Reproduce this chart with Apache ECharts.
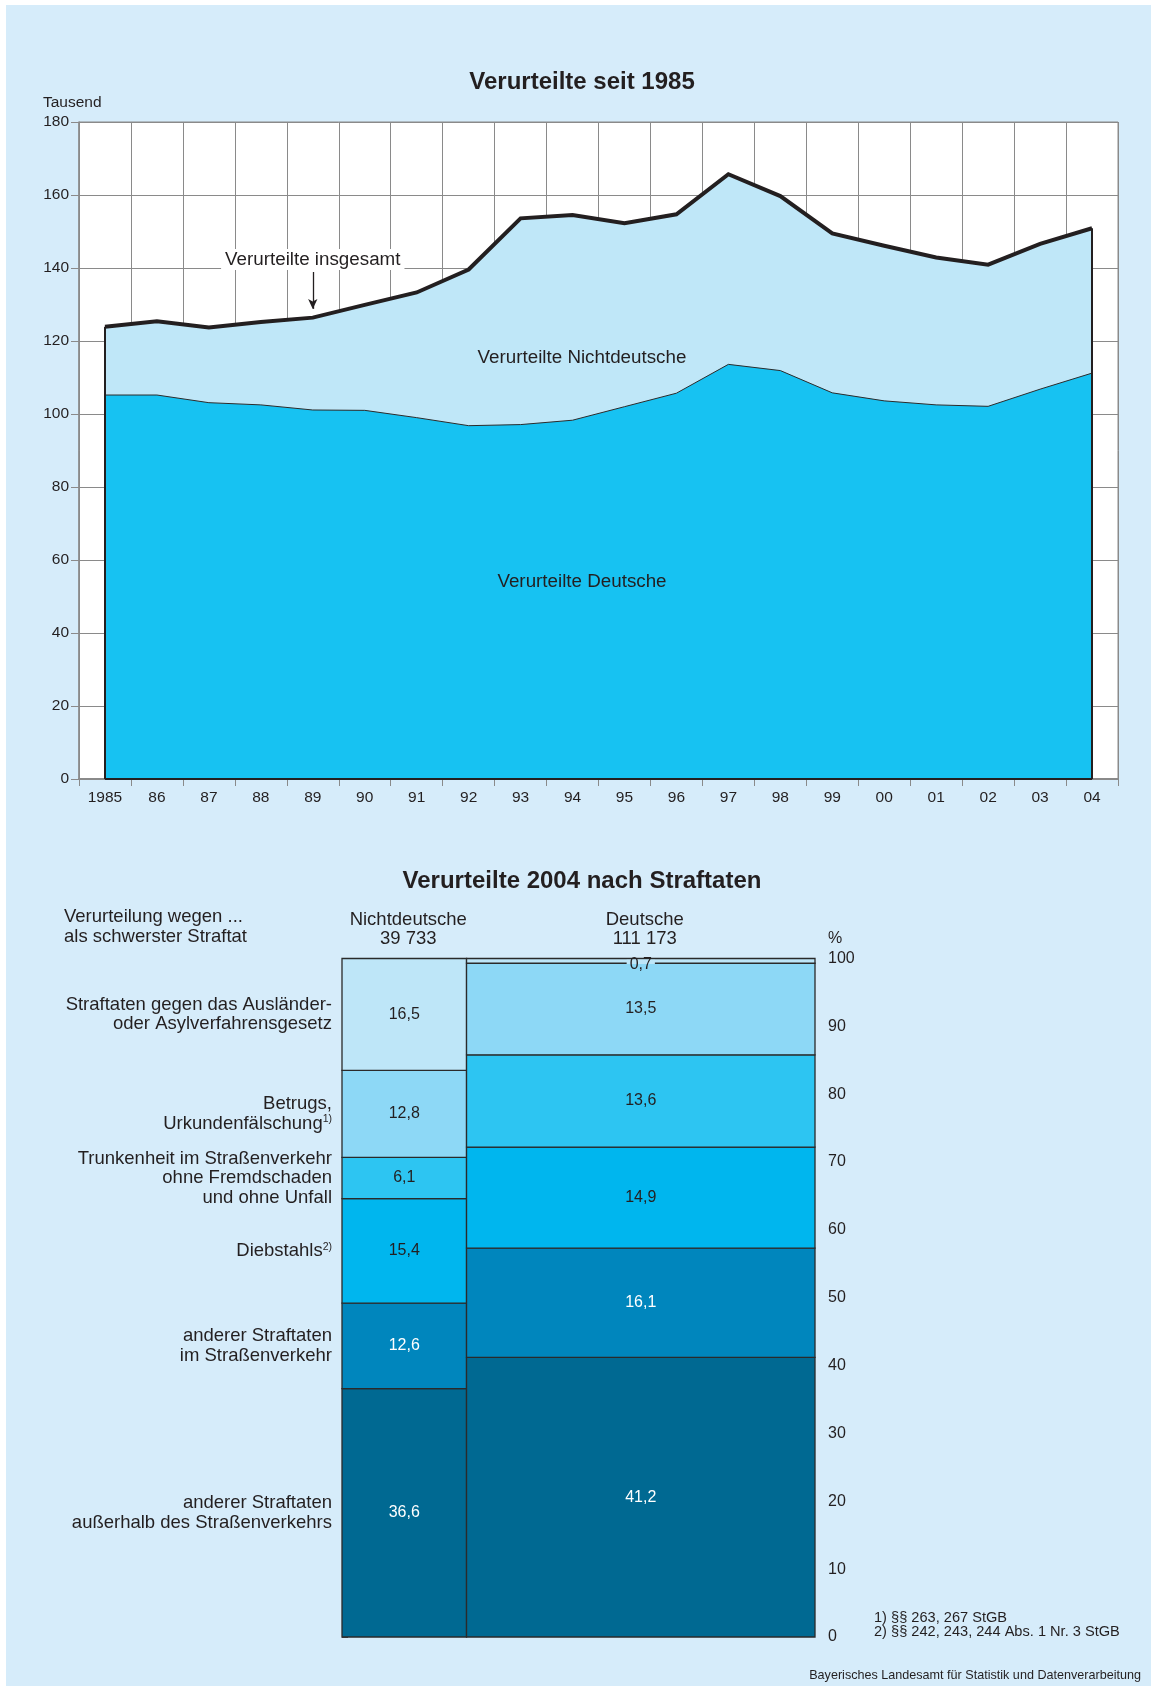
<!DOCTYPE html>
<html>
<head>
<meta charset="utf-8">
<title>Verurteilte in Bayern</title>
<script src="https://cdn.jsdelivr.net/npm/echarts@6/dist/echarts.min.js"></script>
<style>
  html, body { margin: 0; padding: 0; background: #fff; }
  #chart { width: 1151px; height: 1686px; }
</style>
</head>
<body>
<div id="chart"></div>
<script>
const FONT = '"Liberation Sans", Arial, Helvetica, sans-serif';
const INK = '#231F20';
const GRID_GREY = '#8a8a8a';

// --- Verurteilte seit 1985 (in Tausend) ---
const years = ['1985', '86', '87', '88', '89', '90', '91', '92', '93', '94',
               '95', '96', '97', '98', '99', '00', '01', '02', '03', '04'];
const insgesamt = [123.9, 125.4, 123.7, 125.2, 126.4, 129.9, 133.3, 139.6, 153.6, 154.5,
                   152.3, 154.7, 165.7, 159.7, 149.5, 146.1, 142.9, 140.9, 146.6, 150.9];
const deutsche  = [105.2, 105.2, 103.1, 102.5, 101.1, 101.0, 99.0, 96.8, 97.1, 98.3,
                   102.0, 105.7, 113.6, 111.9, 105.8, 103.6, 102.5, 102.1, 106.8, 111.2];

// --- Verurteilte 2004 nach Straftaten (Anteile in %, von unten nach oben) ---
const groupNames = ['Nichtdeutsche', 'Deutsche'];
const groupCounts = [39733, 111173];
const offenceLabels = [
  'anderer Straftaten\naußerhalb des Straßenverkehrs',
  'anderer Straftaten\nim Straßenverkehr',
  'Diebstahls{sup|2)}',
  'Trunkenheit im Straßenverkehr\nohne Fremdschaden\nund ohne Unfall',
  'Betrugs,\nUrkundenfälschung{sup|1)}',
  'Straftaten gegen das Ausländer-\noder Asylverfahrensgesetz'
];
const shareNichtdeutsche = [36.6, 12.6, 15.4, 6.1, 12.8, 16.5];
const shareDeutsche      = [41.2, 16.1, 14.9, 13.6, 13.5, 0.7];
const offenceColors = ['#006992', '#0086BD', '#00B6EE', '#2DC5F2', '#8DD8F6', '#BEE6F8'];

// Mosaic cells: [x0, x1, y0, y1, share, offenceIndex, groupIndex]
const shares = [shareNichtdeutsche, shareDeutsche];
const totalCount = groupCounts.reduce((a, b) => a + b, 0);
const mosaic = [];
let xStart = 0;
groupCounts.forEach((n, g) => {
  let yStart = 0;
  shares[g].forEach((s, k) => {
    mosaic.push([xStart, xStart + n, yStart, yStart + s, s, k, g]);
    yStart += s;
  });
  xStart += n;
});

const fmtShare = v => v.toFixed(1).replace('.', ',');
const fmtCount = n => String(n).replace(/\B(?=(\d{3})+(?!\d))/g, ' ');

function renderMosaic(params, api) {
  const x0 = api.value(0), x1 = api.value(1), y0 = api.value(2), y1 = api.value(3);
  const s = api.value(4), k = api.value(5), g = api.value(6);
  const tl = api.coord([x0, y1]);
  const br = api.coord([x1, y0]);
  const cx = (tl[0] + br[0]) / 2;
  const cy = (tl[1] + br[1]) / 2;
  const children = [{
    type: 'rect',
    shape: { x: tl[0], y: tl[1], width: br[0] - tl[0], height: br[1] - tl[1] },
    style: { fill: offenceColors[k], stroke: '#2a2a2a', lineWidth: 1.3 }
  }];
  const small = s < 2;
  const valueStyle = {
    text: fmtShare(s),
    fill: k <= 1 ? '#ffffff' : INK,
    fontSize: 16,
    fontFamily: FONT,
    align: 'center',
    verticalAlign: 'middle'
  };
  if (small) {
    // thin cell: value sits on its lower edge, interrupting the border
    Object.assign(valueStyle, {
      lineHeight: 9,
      padding: [0, 3],
      backgroundColor: {
        type: 'linear', x: 0, y: 0, x2: 0, y2: 1,
        colorStops: [
          { offset: 0, color: offenceColors[k] },
          { offset: 0.5, color: offenceColors[k] },
          { offset: 0.5, color: offenceColors[k - 1] },
          { offset: 1, color: offenceColors[k - 1] }
        ]
      }
    });
  }
  children.push({ type: 'text', x: cx, y: small ? br[1] + 1 : cy, z2: 10, style: valueStyle });

  if (g === 0) {
    children.push({
      type: 'text', x: tl[0] - 10, y: cy,
      style: {
        text: offenceLabels[k],
        fill: INK, fontSize: 18.5, fontFamily: FONT, lineHeight: 19.5,
        align: 'right', verticalAlign: 'middle',
        rich: { sup: { fontSize: 10.5, fontFamily: FONT, fill: INK, verticalAlign: 'top', lineHeight: 19.5 } }
      }
    });
  }
  if (k === shares[g].length - 1) {
    children.push({
      type: 'text', x: cx + 4, y: tl[1] - 10,
      style: {
        text: groupNames[g] + '\n' + fmtCount(groupCounts[g]),
        fill: INK, fontSize: 18.5, fontFamily: FONT, lineHeight: 19,
        align: 'center', verticalAlign: 'bottom'
      }
    });
  }
  return { type: 'group', children };
}

const last = years.length - 1;

const option = {
  animation: false,
  backgroundColor: '#D6ECFA',
  textStyle: { fontFamily: FONT, color: INK },
  grid: [
    { left: 79, right: 33, top: 122, bottom: 907, show: true, backgroundColor: '#ffffff',
      borderColor: GRID_GREY, borderWidth: 1 },
    { left: 342, right: 336, top: 958.5, bottom: 49 }
  ],
  xAxis: [
    {
      gridIndex: 0, type: 'category', data: years, boundaryGap: true,
      axisLine: { show: true, lineStyle: { color: GRID_GREY, width: 2 } },
      axisTick: { show: true, interval: 0, length: 7, lineStyle: { color: GRID_GREY, width: 1 } },
      axisLabel: { interval: 0, margin: 11, fontSize: 15.5, color: INK, fontFamily: FONT },
      splitLine: { show: true, interval: 0, lineStyle: { color: GRID_GREY, width: 1 } }
    },
    { gridIndex: 1, type: 'value', min: 0, max: totalCount, show: false }
  ],
  yAxis: [
    {
      gridIndex: 0, type: 'value', min: 0, max: 180, interval: 20,
      axisLine: { show: true, lineStyle: { color: GRID_GREY, width: 1.5 } },
      axisTick: { show: true, length: 8, lineStyle: { color: GRID_GREY, width: 1 } },
      axisLabel: { margin: 10, fontSize: 15.5, color: INK, fontFamily: FONT },
      splitLine: { show: true, lineStyle: { color: GRID_GREY, width: 1 } }
    },
    {
      gridIndex: 1, type: 'value', min: 0, max: 100, interval: 10, position: 'right',
      axisLine: { show: false },
      axisTick: { show: true, length: 6, lineStyle: { color: '#555', width: 1 } },
      axisLabel: { margin: 13, fontSize: 16, color: INK, fontFamily: FONT },
      splitLine: { show: false }
    }
  ],
  series: [
    {
      type: 'line', name: 'Verurteilte insgesamt', xAxisIndex: 0, yAxisIndex: 0,
      data: insgesamt, symbol: 'none', z: 2, silent: true,
      lineStyle: { color: INK, width: 4, join: 'miter' },
      areaStyle: { color: '#BFE7F8', opacity: 1 },
      markLine: {
        silent: true, symbol: ['none', 'arrow'], symbolSize: [7, 10],
        lineStyle: { color: INK, width: 1.3, type: 'solid' },
        label: {
          show: true, position: 'start', formatter: 'Verurteilte insgesamt',
          fontSize: 18.8, fontFamily: FONT, color: INK, backgroundColor: '#ffffff',
          padding: [1, 4], distance: 2
        },
        emphasis: { disabled: true },
        data: [[{ coord: ['89', 138.9] }, { coord: ['89', 128.8] }]]
      }
    },
    {
      type: 'line', name: 'Verurteilte Deutsche', xAxisIndex: 0, yAxisIndex: 0,
      data: deutsche, symbol: 'none', z: 3, silent: true,
      lineStyle: { color: '#2b2b2b', width: 1 },
      areaStyle: { color: '#17C2F2', opacity: 1 },
      markLine: {
        silent: true, symbol: 'none', label: { show: false },
        lineStyle: { color: INK, width: 2, type: 'solid' },
        emphasis: { disabled: true },
        data: [
          [{ coord: [years[0], 0] }, { coord: [years[0], insgesamt[0]] }],
          [{ coord: [years[last], 0] }, { coord: [years[last], insgesamt[last]] }],
          [{ coord: [years[0], 0] }, { coord: [years[last], 0] }]
        ]
      }
    },
    {
      type: 'custom', name: 'Straftaten 2004', xAxisIndex: 1, yAxisIndex: 1,
      data: mosaic, encode: { x: [0, 1], y: [2, 3] }, clip: false, silent: true,
      renderItem: renderMosaic
    }
  ],
  graphic: [
    { type: 'rect', left: 0, top: 0, shape: { width: 6, height: 1686 }, style: { fill: '#ffffff' }, silent: true },
    { type: 'rect', left: 0, top: 0, shape: { width: 1151, height: 5 }, style: { fill: '#ffffff' }, silent: true },
    { type: 'text', x: 582, y: 82, style: { text: 'Verurteilte seit 1985', fontSize: 24, fontWeight: 'bold', fontFamily: FONT, fill: INK, align: 'center', verticalAlign: 'middle' } },
    { type: 'text', x: 43, y: 102.5, style: { text: 'Tausend', fontSize: 15.5, fontFamily: FONT, fill: INK, align: 'left', verticalAlign: 'middle' } },
    { type: 'text', x: 582, y: 358, z: 10, style: { text: 'Verurteilte Nichtdeutsche', fontSize: 18.8, fontFamily: FONT, fill: INK, align: 'center', verticalAlign: 'middle' } },
    { type: 'text', x: 582, y: 582, z: 10, style: { text: 'Verurteilte Deutsche', fontSize: 18.8, fontFamily: FONT, fill: INK, align: 'center', verticalAlign: 'middle' } },
    { type: 'text', x: 582, y: 881, style: { text: 'Verurteilte 2004 nach Straftaten', fontSize: 24, fontWeight: 'bold', fontFamily: FONT, fill: INK, align: 'center', verticalAlign: 'middle' } },
    { type: 'text', x: 64, y: 927, style: { text: 'Verurteilung wegen ...\nals schwerster Straftat', fontSize: 18.5, lineHeight: 19.5, fontFamily: FONT, fill: INK, align: 'left', verticalAlign: 'middle' } },
    { type: 'text', x: 835, y: 939, style: { text: '%', fontSize: 16, fontFamily: FONT, fill: INK, align: 'center', verticalAlign: 'middle' } },
    { type: 'text', x: 874, y: 1625, style: { text: '1) §§ 263, 267 StGB\n2) §§ 242, 243, 244 Abs. 1 Nr. 3 StGB', fontSize: 14.6, lineHeight: 14, fontFamily: FONT, fill: INK, align: 'left', verticalAlign: 'middle' } },
    { type: 'text', x: 1141, y: 1676, style: { text: 'Bayerisches Landesamt für Statistik und Datenverarbeitung', fontSize: 12.6, fontFamily: FONT, fill: INK, align: 'right', verticalAlign: 'middle' } }
  ]
};

const chart = echarts.init(document.getElementById('chart'), null, { renderer: 'canvas' });
chart.setOption(option);
</script>
</body>
</html>
